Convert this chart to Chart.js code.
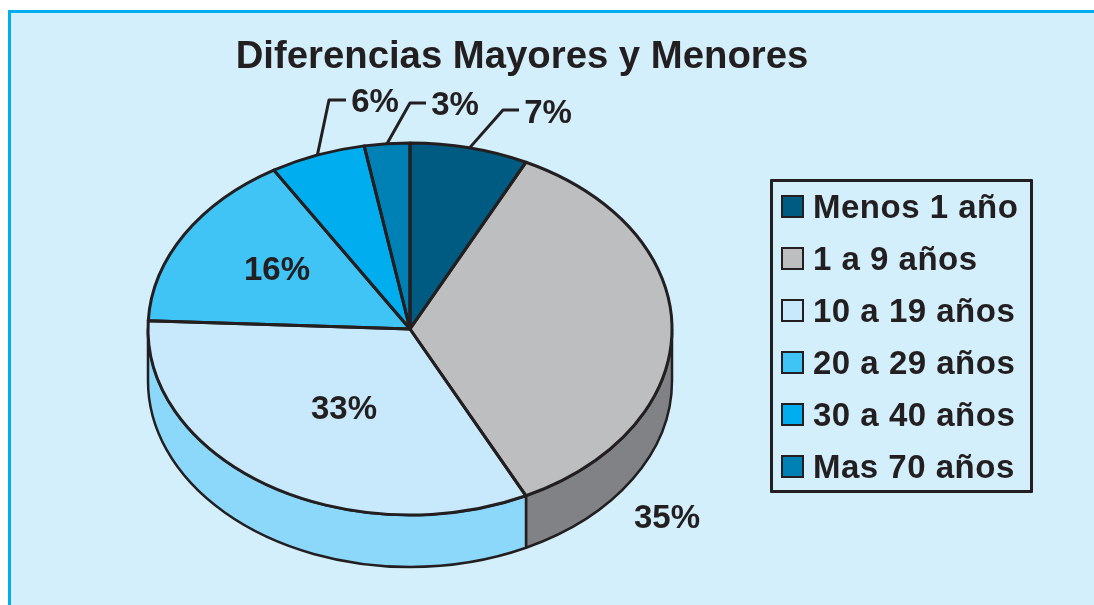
<!DOCTYPE html>
<html lang="es">
<head>
<meta charset="utf-8">
<title>Diferencias Mayores y Menores</title>
<script src="https://cdn.jsdelivr.net/npm/chart.js@4"></script>
<style>
  html, body { margin: 0; padding: 0; background: #fff; overflow: hidden; }
  body { width: 1094px; height: 605px; position: relative; font-family: "Liberation Sans", Arial, sans-serif; }
  .panel {
    position: absolute; left: 8px; top: 10px; right: 0; bottom: 0;
    background: #d3effc; border-left: 3px solid #00aeef; border-top: 3px solid #00aeef;
  }
  canvas { position: absolute; left: 0; top: 0; }
  .legend-box {
    position: absolute; left: 770px; top: 179px; width: 257px; height: 308px;
    border: 3px solid #231f20; border-radius: 1px;
  }
  .legend-row {
    position: absolute; left: 8px; height: 52px; display: flex; align-items: center;
    font-weight: bold; font-size: 33px; letter-spacing: 0.5px; color: #231f20; white-space: nowrap;
  }
  .legend-swatch {
    width: 19px; height: 19px; border: 2px solid #231f20; margin-right: 9px; margin-top: -1px; flex: none;
  }
</style>
</head>
<body>
<div class="panel"></div>
<canvas id="chart" width="1094" height="605"></canvas>
<div class="legend-box" id="legend"></div>

<script>
const chartTitle = "Diferencias Mayores y Menores";
const categories = ["Menos 1 año", "1 a 9 años", "10 a 19 años", "20 a 29 años", "30 a 40 años", "Mas 70 años"];
// wedge sizes as measured on the picture, the printed labels round them
const sliceValues = [7.3, 35.4, 33, 15.6, 5.9, 2.8];
const sliceColors = ["#005b82", "#bcbec0", "#c7e9fb", "#3fc4f5", "#00aeef", "#0081b5"];
const sideColors = ["#004a6a", "#808285", "#8cd8fa", "#2aa8d8", "#0090c8", "#006a96"];

const inkColor = "#231f20";
const pieX = 410;
const pieY = 329;
const pieRx = 262;
const pieRy = 186;
const pieDepth = 52;

// where each percentage text sits; elbow is set for the ones with a leader line
const labelPlaces = [
  { x: 548, y: 114, elbow: [503, 110], end: 519 },
  { x: 667, y: 519 },
  { x: 344, y: 410 },
  { x: 277, y: 271 },
  { x: 375, y: 103, elbow: [329, 100], end: 346 },
  { x: 455, y: 106, elbow: [410, 103], end: 426 },
];

const slicePath = (ctx, arc) => {
  ctx.beginPath();
  ctx.moveTo(pieX, pieY);
  ctx.ellipse(pieX, pieY, pieRx, pieRy, 0, arc.startAngle, arc.endAngle);
  ctx.closePath();
};

const pie3d = {
  id: "pie3d",
  afterLayout(chart) {
    // the title is centred over the picture, not over the canvas
    chart.titleBlock.left = 0;
    chart.titleBlock.right = 1044;
  },
  beforeDatasetsDraw(chart) {
    const ctx = chart.ctx;
    const arcs = chart.getDatasetMeta(0).data;

    // side wall, only the part of each slice that faces the viewer
    ctx.save();
    ctx.lineWidth = 2.5;
    ctx.strokeStyle = inkColor;
    ctx.lineJoin = "round";
    arcs.forEach((arc, i) => {
      const from = Math.max(arc.startAngle, 0);
      const to = Math.min(arc.endAngle, Math.PI);
      if (from >= to) return;
      ctx.beginPath();
      ctx.ellipse(pieX, pieY, pieRx, pieRy, 0, from, to);
      ctx.ellipse(pieX, pieY + pieDepth, pieRx, pieRy, 0, to, from, true);
      ctx.closePath();
      ctx.fillStyle = sideColors[i];
      ctx.fill();
      ctx.stroke();
    });
    ctx.restore();

    // squash the round pie into the top ellipse
    const first = arcs[0];
    ctx.save();
    ctx.translate(pieX, pieY);
    ctx.scale(1, pieRy / pieRx);
    ctx.translate(-first.x, -first.y);
  },
  afterDatasetsDraw(chart) {
    const ctx = chart.ctx;
    const arcs = chart.getDatasetMeta(0).data;
    ctx.restore();

    // outlines drawn unsquashed so the line keeps one width
    ctx.save();
    ctx.lineWidth = 3;
    ctx.strokeStyle = inkColor;
    ctx.lineJoin = "round";
    arcs.forEach((arc) => {
      slicePath(ctx, arc);
      ctx.stroke();
    });

    ctx.fillStyle = inkColor;
    ctx.font = 'bold 33px "Liberation Sans", Arial, sans-serif';
    ctx.textAlign = "center";
    ctx.textBaseline = "middle";
    arcs.forEach((arc, i) => {
      const place = labelPlaces[i];
      ctx.fillText(`${Math.round(sliceValues[i])}%`, place.x, place.y);
      if (!place.elbow) return;
      const mid = (arc.startAngle + arc.endAngle) / 2;
      ctx.beginPath();
      ctx.moveTo(pieX + pieRx * Math.cos(mid), pieY + pieRy * Math.sin(mid));
      ctx.lineTo(place.elbow[0], place.elbow[1]);
      ctx.lineTo(place.end, place.elbow[1]);
      ctx.stroke();
    });
    ctx.restore();
  },
};

new Chart(document.getElementById("chart"), {
  type: "pie",
  data: {
    labels: categories,
    datasets: [
      {
        data: sliceValues,
        backgroundColor: sliceColors,
        borderWidth: 0,
        radius: pieRx,
      },
    ],
  },
  options: {
    responsive: false,
    animation: false,
    plugins: {
      legend: { display: false },
      tooltip: { enabled: false },
      title: {
        display: true,
        text: chartTitle,
        color: inkColor,
        font: { family: '"Liberation Sans", Arial, sans-serif', size: 38.3, weight: "bold" },
        padding: { top: 34, bottom: 0 },
      },
    },
  },
  plugins: [pie3d],
});

const legend = document.getElementById("legend");
categories.forEach((name, i) => {
  const row = document.createElement("div");
  row.className = "legend-row";
  row.style.top = `${i * 52 - 1}px`;
  const swatch = document.createElement("span");
  swatch.className = "legend-swatch";
  swatch.style.background = sliceColors[i];
  const text = document.createElement("span");
  text.textContent = name;
  row.appendChild(swatch);
  row.appendChild(text);
  legend.appendChild(row);
});
</script>
</body>
</html>
